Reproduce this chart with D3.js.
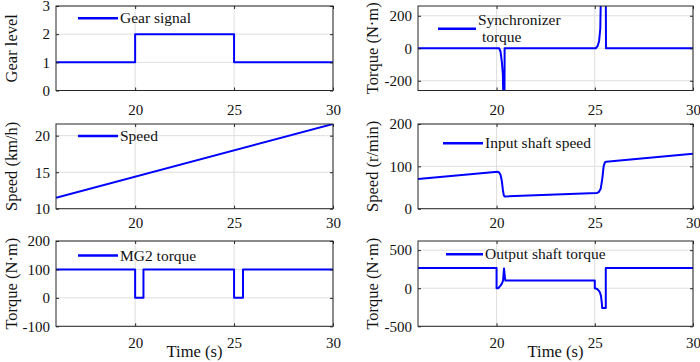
<!DOCTYPE html>
<html>
<head>
<meta charset="utf-8">
<script src="https://cdn.jsdelivr.net/npm/d3@7"></script>
<style>
  body { margin: 0; background: #fff; }
  text { font-family: "Liberation Serif", "Times New Roman", serif; fill: #111; }
  .tick line { stroke: #262626; }
</style>
</head>
<body>
<div class="chart"></div>
<script>
// chart size
var width = 700;
var height = 362;

// shared time axis
var timeDomain = [16, 30];
var timeTicks = [20, 25, 30];

// gear signal
var gearTime  = [16, 20, 20, 25, 25, 30];
var gearLevel = [1, 1, 2, 2, 1, 1];

// vehicle speed (km/h)
var speedTime = [16, 30];
var speedKmh  = [11.5, 21.6];

// MG2 torque (N·m)
var mg2Time   = [16, 20, 20, 20.42, 20.42, 25, 25, 25.45, 25.45, 30];
var mg2Torque = [100, 100, 0, 0, 100, 100, 0, 0, 100, 100];

// synchronizer torque (N·m)
var syncTime   = [16, 20.13, 20.2, 20.27, 20.32, 20.36, 20.4, 20.41, 25.05, 25.15, 25.22, 25.28, 25.32, 25.56, 25.57, 30];
var syncTorque = [0, 0, -20, -85, -160, -400, -400, 0, 0, 15, 45, 120, 400, 400, 0, 0];

// input shaft speed (r/min)
var inputTime  = [16, 20.05, 20.12, 20.2, 20.27, 20.32, 20.37, 20.42, 25.1, 25.2, 25.3, 25.38, 25.45, 25.52, 25.58, 30];
var inputSpeed = [70, 87, 86, 80, 65, 45, 31, 29, 37, 39, 47, 70, 100, 110, 111, 130];

// output shaft torque (N·m)
var outputTime   = [16, 20, 20, 20.08, 20.17, 20.27, 20.33, 20.36, 20.38, 20.42, 20.45, 25, 25, 25.12, 25.2, 25.27, 25.32, 25.36, 25.38, 25.56, 25.56, 30];
var outputTorque = [265, 265, 0, 0, 25, 60, 100, 200, 260, 150, 100, 100, 0, -10, -31, -60, -110, -200, -261, -261, 265, 265];

// layout of the 3x2 grid
var cols = [[56, 333], [418, 693]];
var rows = [[6, 90.5], [124, 208.7], [241, 326.3]];
var xLabelPad = [14, 9, 11.5];

var panels = [
  {col: 0, row: 0, t: gearTime, v: gearLevel, domain: [0, 3], ticks: [0, 1, 2, 3], ylabel: "Gear level",
   legend: ["Gear signal"], lx: [78, 118], ly: 18.3},
  {col: 1, row: 0, t: syncTime, v: syncTorque, domain: [-260, 260], ticks: [-200, 0, 200], ylabel: "Torque (N\u00b7m)",
   legend: ["Synchronizer", " torque"], lx: [438, 476], ly: 28.7},
  {col: 0, row: 1, t: speedTime, v: speedKmh, domain: [10, 21.6], ticks: [10, 15, 20], ylabel: "Speed (km/h)",
   legend: ["Speed"], lx: [78, 118], ly: 136},
  {col: 1, row: 1, t: inputTime, v: inputSpeed, domain: [0, 200], ticks: [0, 100, 200], ylabel: "Speed (r/min)",
   legend: ["Input shaft speed"], lx: [443, 483], ly: 143.3},
  {col: 0, row: 2, t: mg2Time, v: mg2Torque, domain: [-100, 200], ticks: [-100, 0, 100, 200], ylabel: "Torque (N\u00b7m)",
   legend: ["MG2 torque"], lx: [78, 118], ly: 255.5},
  {col: 1, row: 2, t: outputTime, v: outputTorque, domain: [-500, 620], ticks: [-500, 0, 500], ylabel: "Torque (N\u00b7m)",
   legend: ["Output shaft torque"], lx: [446, 483], ly: 254.3}
];

const svg = d3.select(".chart")
              .append("svg")
              .attr("width", width)
              .attr("height", height);

panels.forEach(function(p, i) {
  var x0 = cols[p.col][0], x1 = cols[p.col][1];
  var y0 = rows[p.row][0], y1 = rows[p.row][1];

  var x = d3.scaleLinear().domain(timeDomain).range([x0, x1]);
  var y = d3.scaleLinear().domain(p.domain).range([y1, y0]);

  var g = svg.append("g");

  // grid
  g.append("g").selectAll("line")
   .data(timeTicks)
   .enter().append("line")
   .attr("x1", d => x(d)).attr("x2", d => x(d))
   .attr("y1", y0).attr("y2", y1)
   .attr("stroke", "#dedede").attr("stroke-width", 1);
  g.append("g").selectAll("line")
   .data(p.ticks)
   .enter().append("line")
   .attr("x1", x0).attr("x2", x1)
   .attr("y1", d => y(d)).attr("y2", d => y(d))
   .attr("stroke", "#dedede").attr("stroke-width", 1);

  // data line, clipped to plot box
  var clipId = "clip" + i;
  svg.append("clipPath").attr("id", clipId)
     .append("rect").attr("x", x0).attr("y", y0).attr("width", x1 - x0).attr("height", y1 - y0);

  var pts = p.t.map((t, k) => [t, p.v[k]]);
  g.append("path")
   .datum(pts)
   .attr("clip-path", "url(#" + clipId + ")")
   .attr("fill", "none")
   .attr("stroke", "#0000ff")
   .attr("stroke-width", 2)
   .attr("stroke-linejoin", "round")
   .attr("d", d3.line().x(d => x(d[0])).y(d => y(d[1])));

  // axes, ticks pointing inward
  var ax = g.append("g").attr("transform", "translate(0," + y1 + ")")
    .call(d3.axisBottom(x).tickValues(timeTicks).tickSizeInner(-3).tickSizeOuter(0)
            .tickPadding(xLabelPad[p.row]).tickFormat(d => String(d)));
  var axTop = g.append("g").attr("transform", "translate(0," + y0 + ")")
    .call(d3.axisTop(x).tickValues(timeTicks).tickSizeInner(-3).tickSizeOuter(0).tickFormat(""));
  var ay = g.append("g").attr("transform", "translate(" + x0 + ",0)")
    .call(d3.axisLeft(y).tickValues(p.ticks).tickSizeInner(-3).tickSizeOuter(0)
            .tickPadding(6).tickFormat(d => String(d)));
  var ayR = g.append("g").attr("transform", "translate(" + x1 + ",0)")
    .call(d3.axisRight(y).tickValues(p.ticks).tickSizeInner(-3).tickSizeOuter(0).tickFormat(""));
  [ax, axTop, ay, ayR].forEach(a => {
    a.select(".domain").remove();
    a.selectAll("text").style("font-size", "15px").attr("fill", "#111")
     .style("font-family", "'Liberation Serif', serif");
  });

  // box
  g.append("rect")
   .attr("x", x0).attr("y", y0)
   .attr("width", x1 - x0).attr("height", y1 - y0)
   .attr("fill", "none").attr("stroke", "#262626").attr("stroke-width", 1);

  // y label
  var lx = p.col === 0 ? 17 : 378;
  g.append("text")
   .attr("transform", "translate(" + lx + "," + ((y0 + y1) / 2) + ") rotate(-90)")
   .attr("text-anchor", "middle")
   .style("font-size", "16.5px")
   .text(p.ylabel);

  // x label on bottom row
  if (p.row === 2) {
    g.append("text")
     .attr("x", (x0 + x1) / 2).attr("y", 357)
     .attr("text-anchor", "middle")
     .style("font-size", "16.5px")
     .text("Time (s)");
  }

  // legend
  g.append("line")
   .attr("x1", p.lx[0]).attr("x2", p.lx[1])
   .attr("y1", p.ly).attr("y2", p.ly)
   .attr("stroke", "#0000ff").attr("stroke-width", 2.5);
  var n = p.legend.length;
  p.legend.forEach(function(s, k) {
    g.append("text")
     .attr("x", p.lx[1] + 2)
     .attr("y", p.ly + 5 + (k - (n - 1) / 2) * 17.5)
     .style("font-size", "15.5px")
     .style("white-space", "pre")
     .attr("xml:space", "preserve")
     .text(s);
  });
});
</script>
</body>
</html>
